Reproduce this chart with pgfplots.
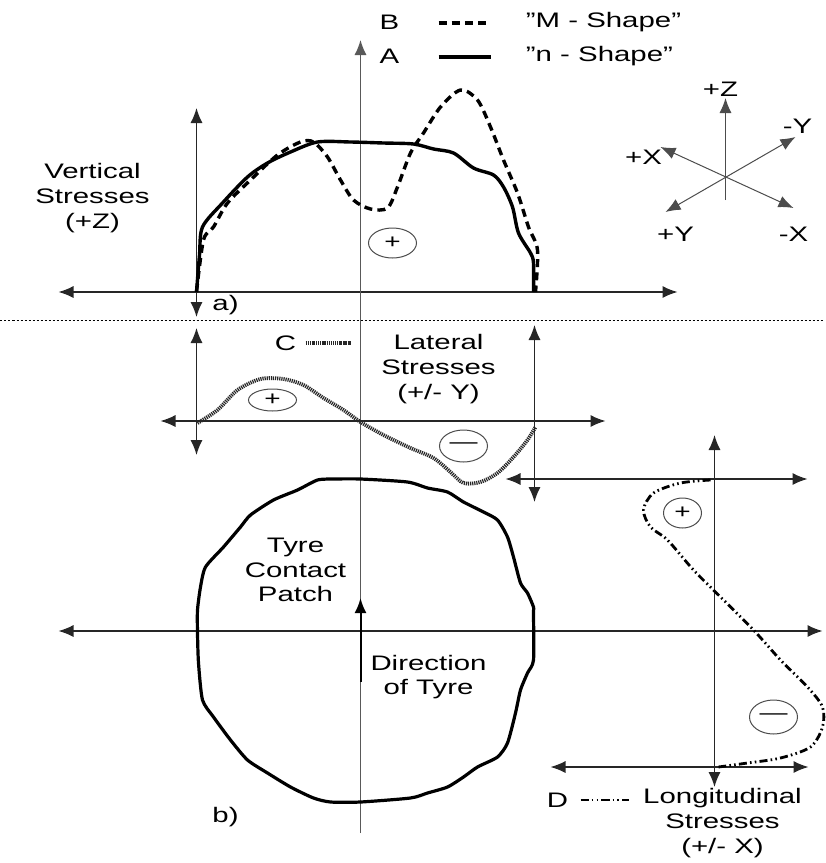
\documentclass[border=0pt]{standalone}
\usepackage{fontspec}
\setmainfont{Liberation Sans}[FakeStretch=1.4]
\usepackage{pgfplots}
\pgfplotsset{compat=1.18}
\usetikzlibrary{arrows.meta,shapes.geometric}

\tikzset{
  ax/.style={black!85, line width=0.6pt},
  tip/.style={-{Latex[length=7.5pt,width=6pt]}},
  tips/.style={{Latex[length=7.5pt,width=6pt]}-{Latex[length=7.5pt,width=6pt]}},
  lbl/.style={font=\fontsize{10.5}{12.3}\selectfont, align=center, inner sep=0pt},
  sgn/.style={draw, black!70, line width=0.5pt, ellipse, inner sep=0pt, text=black,
              font=\fontsize{10}{12}\selectfont},
  nshape/.style={black, line width=1.7pt, smooth, tension=0.5},
  mshape/.style={black, line width=1.7pt, dash pattern=on 4pt off 2.6pt, smooth, tension=0.5},
  lat/.style={black!85, line width=1.9pt, dash pattern=on 0.6pt off 0.45pt, smooth, tension=0.5},
  lon/.style={black, line width=1.4pt, dash pattern=on 4pt off 1.6pt on 0.8pt off 1.6pt on 0.8pt off 1.6pt, smooth, tension=0.5},
  outline/.style={black, line width=1.6pt, smooth, tension=0.4},
}

\begin{document}
\begin{tikzpicture}
\begin{axis}[
  x=0.5pt, y=0.5pt, y dir=reverse,
  xmin=0, xmax=823, ymin=0, ymax=863,
  hide axis, clip=false,
]
\path (axis cs:0,0) rectangle (axis cs:823,863);

% ---------------- a) vertical stresses ----------------
\addplot[ax, tips] coordinates {(58,292) (677,292)};
\addplot[ax, black!65, tip] coordinates {(360,833) (360,40)};
\addplot[ax, tips] coordinates {(196,317) (196,108)};

% A: "n - Shape"
\addplot[nshape] coordinates {
 (196,292) (199,255) (202,227) (222,203) (247,177) (267,163) (290,152)
 (317,142) (350,142) (383,143) (413,144) (433,149) (453,153) (473,168)
 (493,175) (503,187) (512,207) (518,233) (530,253) (533,263) (533,292)};
% B: "M - Shape"
\addplot[mshape] coordinates {
 (196,292) (203,240) (213,227) (227,203) (250,180) (277,155) (300,142)
 (313,142) (327,157) (340,180) (353,200) (370,209) (387,208) (397,187)
 (410,153) (423,133) (440,107) (460,90) (477,100) (490,127) (503,160)
 (517,193) (528,227) (537,250) (535,292)};

\node[sgn, minimum width=24pt, minimum height=15pt] at (axis cs:392,243) {+};

% legend
\node[lbl] at (axis cs:389,22) {B};
\addplot[black, line width=1.7pt, dash pattern=on 4pt off 2.6pt] coordinates {(438,23) (490,23)};
\node[lbl, anchor=west] at (axis cs:525,22) {''M - Shape''};
\node[lbl] at (axis cs:389,56) {A};
\addplot[black, line width=1.7pt] coordinates {(438,57) (490,57)};
\node[lbl, anchor=west] at (axis cs:525,56) {''n - Shape''};

\node[lbl] at (axis cs:92,198) {Vertical\\Stresses\\(+Z)};
\node[lbl] at (axis cs:225,305) {a)};

% coordinate system glyph
\addplot[ax, black!70, line width=0.5pt, tip] coordinates {(725,200) (725,98)};
\addplot[ax, black!70, line width=0.5pt, tips] coordinates {(660,147) (793,208)};
\addplot[ax, black!70, line width=0.5pt, tips] coordinates {(665,212) (795,137)};
\node[lbl] at (axis cs:720,89) {+Z};
\node[lbl] at (axis cs:797,126) {-Y};
\node[lbl] at (axis cs:643,157) {+X};
\node[lbl] at (axis cs:675,234) {+Y};
\node[lbl] at (axis cs:793,234) {-X};

% separator
\addplot[black, line width=0.5pt, dash pattern=on 1pt off 1pt] coordinates {(0,320) (823,320)};

% ---------------- lateral stresses ----------------
\addplot[ax, tips] coordinates {(160,421) (605,421)};
\addplot[ax, tips] coordinates {(196,328) (196,455)};
\addplot[ax, tips] coordinates {(534,325) (534,502)};

\addplot[lat] coordinates {
 (197,423) (217,410) (237,390) (260,379) (283,379) (303,385) (323,398)
 (343,410) (360,422) (383,435) (410,448) (433,458) (450,472) (463,483)
 (480,482) (497,473) (513,457) (527,440) (535,427)};

\node[sgn, minimum width=24pt, minimum height=11pt] at (axis cs:272,400) {+};
\node[sgn, minimum width=24pt, minimum height=16pt] at (axis cs:463,446) {\textemdash};

\node[lbl] at (axis cs:285,343) {C};
\addplot[lat] coordinates {(305,343) (350,343)};
\node[lbl] at (axis cs:438,369) {Lateral\\Stresses\\(+/- Y)};

% ---------------- b) tyre contact patch ----------------
\addplot[ax, tips] coordinates {(58,631) (822,631)};
\addplot[black, line width=1pt, tip] coordinates {(360,682) (360,598)};

\addplot[outline] coordinates {
 (333,479) (360,479) (407,482) (427,488) (447,492) (463,502) (483,512)
 (497,520) (507,537) (513,557) (520,583) (527,593) (533,607) (533,613)
 (533,660) (527,673) (520,690) (515,713) (507,743) (497,757) (477,767)
 (463,777) (447,787) (427,793) (410,798) (360,802) (330,802) (313,798)
 (290,787) (267,773) (247,760) (230,740) (213,717) (202,700) (198,663)
 (197,633) (197,610) (200,587) (205,567) (223,547) (240,527) (250,515)
 (273,500) (297,490) (317,480) (333,479)};

\node[lbl] at (axis cs:295,570) {Tyre\\Contact\\Patch};
\node[lbl] at (axis cs:428,677) {Direction\\of Tyre};
\node[lbl] at (axis cs:225,817) {b)};

% ---------------- longitudinal stresses ----------------
\addplot[ax, tips] coordinates {(714,787) (714,435)};
\addplot[ax, tips] coordinates {(505,479) (807,479)};
\addplot[ax, tips] coordinates {(550,767) (808,767)};

\addplot[lon] coordinates {
 (710,480) (680,483) (653,493) (643,510) (650,527) (667,540) (693,570)
 (720,597) (753,630) (780,660) (807,687) (822,707) (822,727) (810,747)
 (780,758) (747,763) (718,767)};

\node[sgn, minimum width=19pt, minimum height=15pt] at (axis cs:682,513) {+};
\node[sgn, minimum width=24pt, minimum height=17pt] at (axis cs:773,717) {\textemdash};

\node[lbl] at (axis cs:557,800) {D};
\addplot[lon] coordinates {(580,800) (628,800)};
\node[lbl] at (axis cs:722,823) {Longitudinal\\Stresses\\(+/- X)};

\end{axis}
\end{tikzpicture}
\end{document}
